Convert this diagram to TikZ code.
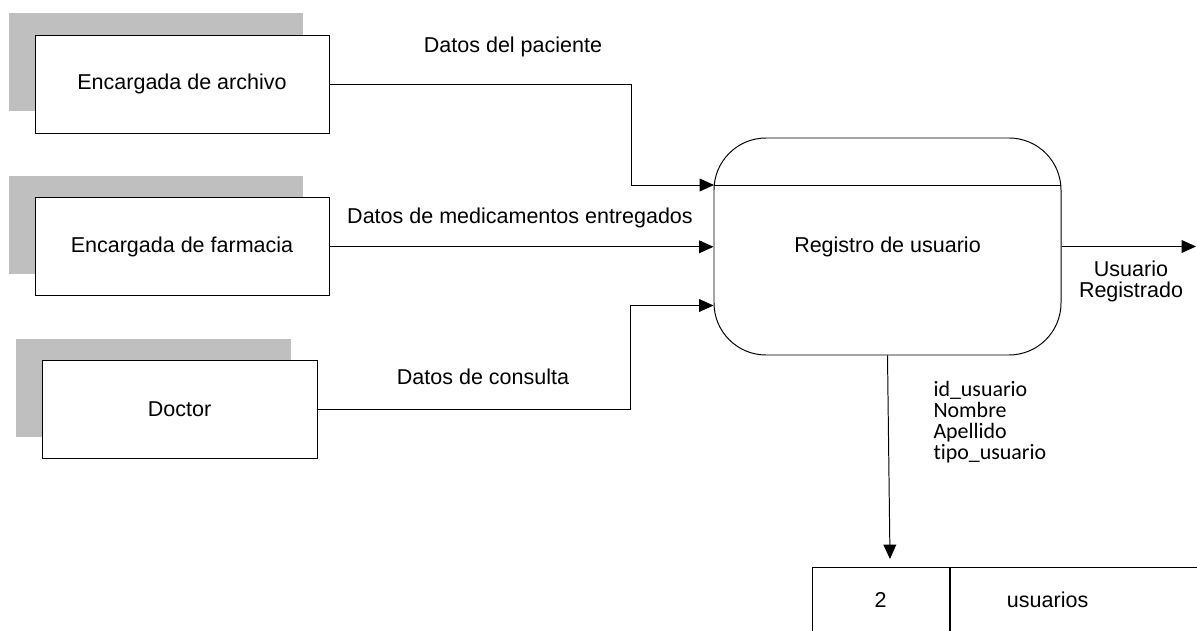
\documentclass[tikz,border=0pt]{standalone}
\usepackage{fontspec}
\setmainfont{Liberation Sans}
\newfontfamily\attrfont[Ligatures={NoCommon}]{Carlito}
\usetikzlibrary{shadows}
\usetikzlibrary{positioning}
\usetikzlibrary{arrows.meta}

\begin{document}
\begin{tikzpicture}[>={Triangle[length=0.36cm,width=0.32cm]},line width=0.7pt,
	node distance=4.07cm,font=\fontsize{15.3}{15}\selectfont,
	ext node/.style={rectangle,draw,fill=white,minimum width=7.35cm,minimum height=2.45cm,
		copy shadow={shadow xshift=-0.65cm,shadow yshift=0.55cm,fill=black!25,draw=none}},
	proc node/.style={rectangle,draw,rounded corners=1.3cm,minimum width=8.675cm,minimum height=5.425cm},
	store node/.style={rectangle,draw,minimum height=1.65cm,inner sep=0pt}]
	
	\useasboundingbox (0,0) rectangle (29.925,-15.775);
	\clip (0,0) rectangle (29.925,-15.775);
	
	\node[ext node] (archivo) at (4.55,-2.1) {Encargada de archivo};
	\node[ext node] (farmacia) [below of=archivo] {Encargada de farmacia};
	\node[ext node,minimum width=6.875cm,xshift=-0.0625cm] (doctor) [below of=farmacia] {Doctor};
	
	\node[proc node] (registro) at (22.1875,-6.1625) {Registro de usuario};
	\coordinate (sepL) at (17.85,-4.625);
	\coordinate (sepR) at (26.525,-4.625);
	\draw (sepL) -- (sepR);
	
	\node[store node,minimum width=3.425cm] (storeid) at (22.0125,-15.0) {2};
	\node[store node,minimum width=6.7cm,text width=3.85cm,inner xsep=1.425cm,align=left,
		right=0pt of storeid] (storename) {usuarios};
	
	\coordinate (regin) at ([yshift=-1.475cm]registro.west);
	\coordinate (regout) at (29.9,-6.1625);
	\coordinate (storein) at (22.25,-13.975);
	
	\draw[->] (archivo.east) -| ([xshift=-2.075cm]sepL) -- (sepL);
	\draw[->] (farmacia.east) -- (farmacia.east -| registro.west);
	\draw[->] (doctor.east) -| ([xshift=-2.075cm]regin) -- (regin);
	\draw[->] (registro.east) -- (regout);
	\draw[->] (registro.south) -- (storein);
	
	\node (lblpaciente) at (12.825,-1.175) {Datos del paciente};
	\node (lblmedic) at (13.0,-5.45) {Datos de medicamentos entregados};
	\node (lblconsulta) at (12.075,-9.425) {Datos de consulta};
	\node[align=center] (lblsalida) at (28.275,-7.0375) {Usuario\\Registrado};
	\node[anchor=west,align=left,inner sep=0pt,font=\attrfont\fontsize{15.6}{14.9}\selectfont]
		(atributos) at (23.325,-10.5625) {id\_usuario\\Nombre\\Apellido\\tipo\_usuario};
\end{tikzpicture}
\end{document}
